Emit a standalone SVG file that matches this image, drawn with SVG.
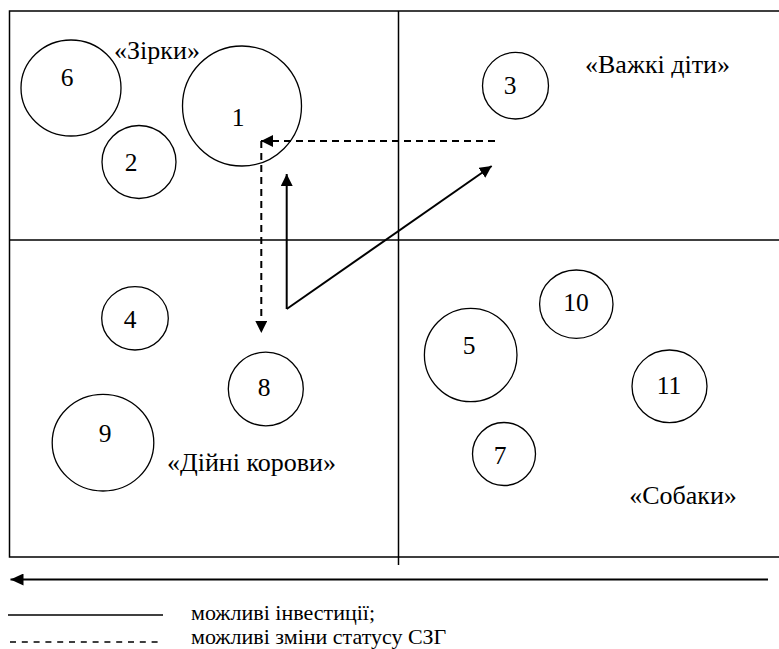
<svg xmlns="http://www.w3.org/2000/svg" width="779" height="649" viewBox="0 0 779 649">
<defs>
<style>
.frame{fill:none;stroke:#000;stroke-width:1.5}
.node ellipse{fill:none;stroke:#000;stroke-width:1.3}
.num{text-anchor:middle;font-size:25.5px}
.lab{text-anchor:middle;font-size:26px}
.leg{font-size:22px}
.solid{fill:none;stroke:#000;stroke-width:2}
.dash{fill:none;stroke:#000;stroke-width:2;stroke-dasharray:7 5}
text{font-family:'Liberation Serif','Times New Roman','DejaVu Serif',serif;fill:#000}
</style>
<marker id="ah" markerUnits="userSpaceOnUse" markerWidth="14" markerHeight="12" refX="12" refY="6" orient="auto">
<path d="M0,0 L12,6 L0,12 Z" fill="#000"/>
</marker>
<marker id="ahBig" markerUnits="userSpaceOnUse" markerWidth="15" markerHeight="12" refX="13" refY="6" orient="auto">
<path d="M0,0 L13,6 L0,12 Z" fill="#000"/>
</marker>
</defs>
<rect width="779" height="649" fill="#fff"/>

<g id="frame">
<path class="frame" d="M782,11 H9.5 V557 H782"/>
<line class="frame" x1="398.5" y1="11" x2="398.5" y2="565"/>
<line class="frame" x1="9.5" y1="240" x2="782" y2="240"/>
</g>

<g id="quadrant-labels">
<text class="lab" x="157" y="59">«Зірки»</text>
<text class="lab" x="657.5" y="72.5">«Важкі діти»</text>
<text class="lab" x="251.5" y="471">«Дійні корови»</text>
<text class="lab" x="683" y="503.5">«Собаки»</text>
</g>

<g id="node-6" class="node"><ellipse cx="71" cy="88" rx="50" ry="48"/><text class="num" x="67" y="85.5">6</text></g>
<g id="node-2" class="node"><ellipse cx="139" cy="162" rx="37" ry="36.5"/><text class="num" x="131" y="170.5">2</text></g>
<g id="node-1" class="node"><ellipse cx="242" cy="106" rx="59.5" ry="60"/><text class="num" x="238" y="126">1</text></g>
<g id="node-3" class="node"><ellipse cx="515.5" cy="85.7" rx="33" ry="33.3"/><text class="num" x="510" y="94">3</text></g>
<g id="node-4" class="node"><ellipse cx="135" cy="318.3" rx="33.3" ry="31.7"/><text class="num" x="130" y="328">4</text></g>
<g id="node-8" class="node"><ellipse cx="265.8" cy="389" rx="37.5" ry="36.8"/><text class="num" x="264" y="396">8</text></g>
<g id="node-9" class="node"><ellipse cx="103" cy="442.7" rx="50.8" ry="48.3"/><text class="num" x="105" y="441.5">9</text></g>
<g id="node-10" class="node"><ellipse cx="576.3" cy="304.2" rx="36.7" ry="34.2"/><text class="num" x="576" y="311">10</text></g>
<g id="node-5" class="node"><ellipse cx="470.7" cy="355" rx="46.3" ry="46.7"/><text class="num" x="469" y="354">5</text></g>
<g id="node-11" class="node"><ellipse cx="669.5" cy="386.3" rx="37.5" ry="36.3"/><text class="num" x="669" y="394">11</text></g>
<g id="node-7" class="node"><ellipse cx="504" cy="454" rx="31.5" ry="31.5"/><text class="num" x="500" y="464">7</text></g>

<g id="connectors">
<line class="dash" x1="495" y1="141" x2="261" y2="141" marker-end="url(#ah)"/>
<line class="dash" x1="261.3" y1="141" x2="261.3" y2="333" marker-end="url(#ah)"/>
<line class="solid" x1="286.7" y1="309" x2="286.7" y2="174" marker-end="url(#ah)"/>
<line class="solid" x1="286.7" y1="309" x2="491.7" y2="166" marker-end="url(#ah)"/>
<line class="solid" x1="768" y1="579.5" x2="10.5" y2="579.5" marker-end="url(#ahBig)"/>
</g>

<g id="legend">
<line x1="8" y1="615" x2="163" y2="615" stroke="#000" stroke-width="1.5"/>
<line x1="10" y1="642" x2="163" y2="642" stroke="#000" stroke-width="1.5" stroke-dasharray="6 5.8"/>
<text class="leg" x="191" y="620">можливі інвестиції;</text>
<text class="leg" x="191" y="643.5">можливі зміни статусу СЗГ</text>
</g>
</svg>
